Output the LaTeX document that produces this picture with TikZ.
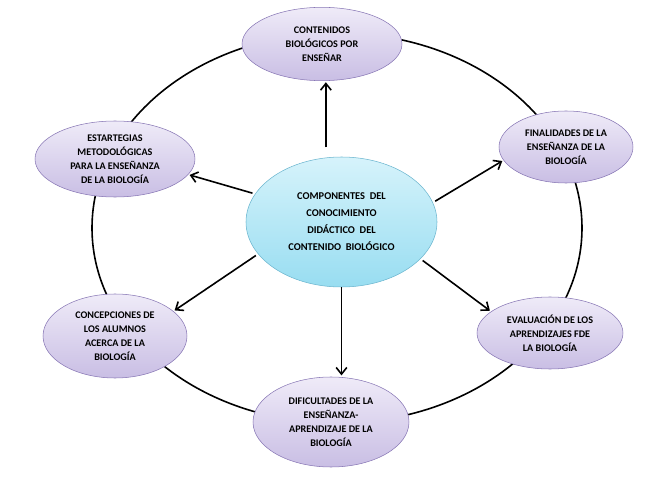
\documentclass[tikz,border=0pt]{standalone}
\usepackage{fontspec}
\setmainfont{Carlito}
\usetikzlibrary{shapes.geometric,arrows.meta}
\definecolor{lilaTop}{HTML}{EFEBF8}
\definecolor{lilaBot}{HTML}{C9BEE4}
\definecolor{lilaBorde}{HTML}{8877B5}
\definecolor{celesteTop}{HTML}{D6F3FB}
\definecolor{celesteBot}{HTML}{98DDF1}
\definecolor{celesteBorde}{HTML}{6CB6CF}
\begin{document}
\begin{tikzpicture}[x=0.75pt, y=-0.75pt, >={Straight Barb[length=5pt,width=8pt]},
   tema/.style={ellipse, draw=lilaBorde, top color=lilaTop, bottom color=lilaBot,
      inner sep=0pt, align=center, text=black,
      font=\bfseries\fontsize{7.6}{10.5}\selectfont},
   nucleo/.style={ellipse, draw=celesteBorde, top color=celesteTop, bottom color=celesteBot,
      inner sep=0pt, align=center, text=black,
      font=\bfseries\fontsize{7.8}{12.75}\selectfont},
   flecha/.style={->, line width=1.2pt},
   anillo/.style={line width=1.2pt}]

\useasboundingbox (0,0) rectangle (658,492);

% anillo exterior
\coordinate (centroAnillo) at (337,228);
\draw[anillo] (centroAnillo) ellipse [x radius=245, y radius=195];

% componentes
\node[tema, minimum width=120pt, minimum height=55pt] (contenidos) at (322,44)
   {CONTENIDOS\\BIOLÓGICOS POR\\ENSEÑAR};
\node[tema, minimum width=120pt, minimum height=57pt] (estrategias) at (115,159)
   {ESTARTEGIAS\\METODOLÓGICAS\\PARA LA ENSEÑANZA\\DE LA BIOLOGÍA};
\node[tema, minimum width=100.5pt, minimum height=54pt] (finalidades) at (566,147)
   {FINALIDADES DE LA\\ENSEÑANZA DE LA\\BIOLOGÍA};
\node[tema, minimum width=108pt, minimum height=63pt] (concepciones) at (115,336)
   {CONCEPCIONES DE\\LOS ALUMNOS\\ACERCA DE LA\\BIOLOGÍA};
\node[tema, minimum width=109.5pt, minimum height=54pt] (evaluacion) at (550,333)
   {EVALUACIÓN DE LOS\\APRENDIZAJES FDE\\LA BIOLOGÍA};
\node[tema, minimum width=117pt, minimum height=67.5pt] (dificultades) at (331,422)
   {DIFICULTADES DE LA\\ENSEÑANZA-\\APRENDIZAJE DE LA\\BIOLOGÍA};

% nucleo
\node[nucleo, minimum width=143.25pt, minimum height=97.5pt] (componentes) at (341.5,222)
   {COMPONENTES~~DEL\\CONOCIMIENTO\\DIDÁCTICO~~DEL\\CONTENIDO~~BIOLÓGICO};

% flechas
\draw[flecha, shorten <=7pt, shorten >=1pt] (componentes.north -| contenidos.-84) -- (contenidos.-84);
\draw[flecha, shorten <=2pt, shorten >=1pt] (componentes.162) -- (estrategias.-12);
\draw[flecha, shorten <=2pt, shorten >=1pt] (componentes.12) -- (finalidades.-168);
\draw[flecha, shorten <=2pt, shorten >=1pt] (componentes.-159) -- (concepciones.23);
\draw[flecha, shorten <=2pt, shorten >=1pt] (componentes.-25) -- (evaluacion.160);
\draw[flecha, shorten >=1pt] (componentes.south) -- (componentes.south |- dificultades.north);

\end{tikzpicture}
\end{document}
